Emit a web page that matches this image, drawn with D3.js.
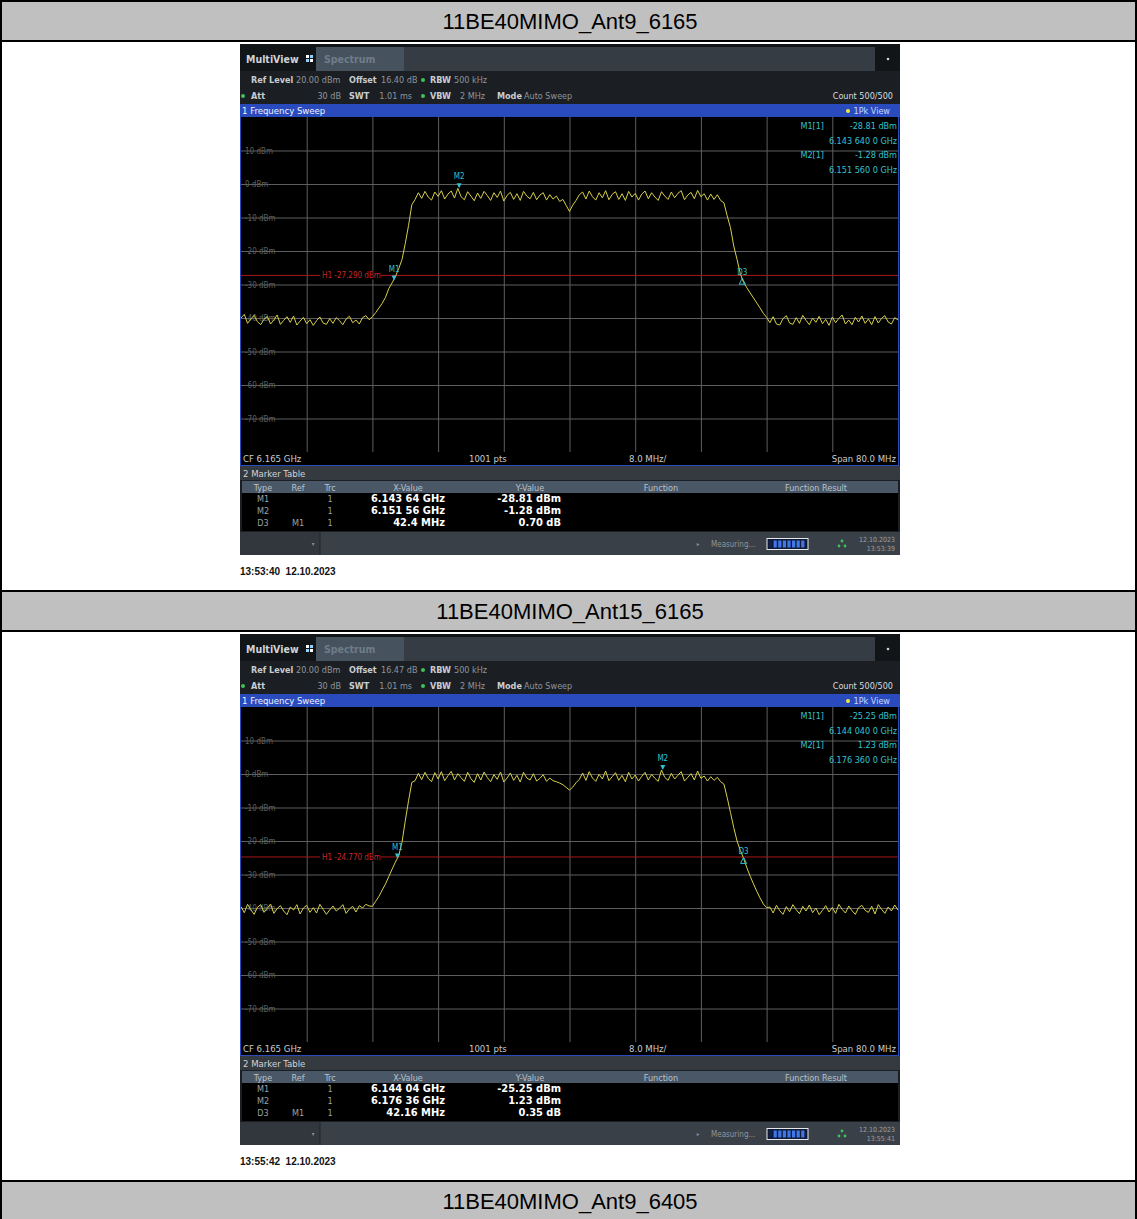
<!DOCTYPE html>
<html>
<head>
<meta charset="utf-8">
<script src="https://cdn.jsdelivr.net/npm/d3@7"></script>
<style>
body { margin: 0; background: #fff; }
svg { display: block; }
.ins text { font-family: "Liberation Sans Narrow", "DejaVu Sans Condensed", "Liberation Sans", sans-serif; }
</style>
</head>
<body>
<div id="chart"></div>
<script>
// ---- data ----
var titles = ["11BE40MIMO_Ant9_6165", "11BE40MIMO_Ant15_6165", "11BE40MIMO_Ant9_6405"];
var stamps = ["13:53:40  12.10.2023", "13:55:42  12.10.2023"];
var instTimes = ["13:53:39", "13:55:41"];
var instDate = "12.10.2023";
var offsets = ["16.40 dB", "16.47 dB"];
var freqStart = 6.125, freqStop = 6.205; // GHz, CF 6.165 span 80 MHz
var refLevel = 20, bottomLevel = -80;
var yTickLevels = [10, 0, -10, -20, -30, -40, -50, -60, -70];

// trace values in dBm, evenly spread over the span (0.4 MHz apart)
var trace1 = [
  -40.0,-38.9,-41.6,-40.3,-39.2,-41.1,-42.0,-40.4,-39.5,-41.8,
  -40.6,-39.1,-41.9,-40.7,-39.6,-41.3,-39.4,-42.1,-40.9,-39.8,
  -41.7,-40.5,-42.2,-40.8,-39.7,-41.5,-41.9,-40.2,-41.6,-39.9,
  -40.8,-42.0,-40.3,-39.5,-41.4,-40.6,-41.8,-39.9,-39.3,-40.5,
  -39.6,-38.4,-37.0,-35.6,-33.8,-31.2,-29.5,-27.6,-25.3,-22.6,-17.8,-12.4,-6.2,
  -4.6,-2.6,-4.3,-2.2,-3.9,-4.8,-2.4,-3.7,-2.0,-4.5,
  -3.0,-2.1,-4.2,-1.3,-3.8,-4.7,-2.3,-3.6,-5.0,-2.7,
  -4.3,-2.2,-3.5,-4.9,-2.6,-4.0,-2.1,-5.1,-3.4,-2.5,
  -4.6,-2.9,-4.9,-2.2,-3.6,-4.4,-2.5,-4.7,-3.3,-2.6,
  -4.8,-3.2,-4.5,-3.6,-5.2,-4.6,-6.4,-8.2,-6.3,-4.9,
  -3.2,-2.4,-4.5,-2.1,-3.8,-4.8,-2.6,-4.1,-2.0,-4.7,
  -3.1,-2.3,-4.6,-2.9,-4.9,-2.2,-3.9,-2.8,-4.8,-3.0,
  -2.1,-4.4,-2.6,-3.9,-4.9,-2.3,-3.6,-4.6,-2.4,-4.1,
  -2.8,-2.0,-4.7,-3.3,-2.5,-4.4,-1.9,-3.8,-2.9,-4.8,
  -3.0,-4.6,-3.2,-4.9,
  -5.6,-9.5,-13.0,-18.5,-22.5,-26.8,-29.4,-31.0,-32.5,-34.0,-35.5,-37.0,-38.6,-39.8,
  -41.4,-39.6,-41.8,-42.1,-40.2,-39.3,-41.5,-41.9,-39.9,-41.6,
  -39.2,-40.7,-42.0,-40.0,-41.3,-39.5,-41.7,-40.4,-42.2,-39.7,
  -41.4,-40.1,-39.1,-41.8,-40.6,-42.0,-39.8,-41.2,-39.4,-41.6,
  -40.3,-42.0,-39.6,-41.5,-40.1,-39.3,-41.2,-41.8,-39.9,-40.6
];
var trace2 = [
  -39.6,-41.4,-38.9,-40.5,-41.9,-39.8,-39.0,-41.3,-40.1,-38.8,
  -41.6,-40.2,-39.3,-40.9,-42.0,-39.7,-40.6,-39.0,-41.8,-40.0,
  -39.2,-41.3,-39.9,-41.5,-38.9,-40.4,-41.9,-40.6,-39.4,-40.9,
  -40.1,-39.0,-41.6,-40.3,-39.5,-41.2,-39.3,-40.0,-38.9,-39.4,
  -39.5,-38.0,-36.5,-34.6,-32.8,-30.6,-28.4,-26.3,-24.4,-20.5,-14.0,-8.0,-2.5,
  -2.0,0.2,-1.7,0.5,-1.3,-2.3,0.4,-1.5,0.7,-2.0,
  -0.5,0.8,-1.8,0.1,-1.1,-2.2,0.5,-1.4,-2.5,0.1,
  -1.8,0.6,-1.1,-2.3,-0.2,-1.6,0.6,-2.4,-1.2,0.3,
  -1.9,-0.4,-2.4,0.5,-1.2,-1.8,0.1,-2.1,-1.3,-0.2,
  -2.2,-1.2,-2.0,-2.3,-2.7,-3.2,-4.0,-4.8,-3.9,-2.6,
  -1.6,0.3,-1.9,0.7,-1.2,-2.2,-0.1,-1.5,0.9,-2.0,
  -0.8,0.4,-1.9,-0.4,-2.3,0.5,-1.5,-0.3,-2.1,-0.7,
  0.5,-1.8,-0.1,-1.3,-2.2,1.2,-1.0,-1.9,0.2,-1.5,
  -0.4,0.7,-2.1,-1.0,0.1,-1.8,0.9,-1.3,-0.6,-2.1,
  -0.8,-1.9,-1.0,-2.3,
  -3.0,-7.0,-11.5,-16.0,-20.0,-22.8,-25.2,-28.0,-30.5,-32.8,-35.0,-37.0,-38.8,-39.9,
  -39.7,-41.5,-39.2,-40.8,-41.9,-39.6,-41.1,-39.0,-40.5,-41.7,
  -39.5,-40.9,-39.1,-41.4,-40.0,-42.0,-40.7,-39.3,-41.2,-39.8,
  -41.6,-38.9,-40.4,-41.5,-39.4,-40.8,-41.9,-39.9,-39.2,-40.7,
  -41.3,-39.5,-41.8,-39.0,-40.4,-41.6,-39.7,-40.9,-39.1,-40.6
];
var traces = [trace1, trace2];

var h1Levels = [-27.29, -24.77];
var m1Freq = [6.14364, 6.14404], m1Level = [-28.81, -25.25];
var m2Freq = [6.15156, 6.17636], m2Level = [-1.28, 1.23];
var d3Freq = [6.18604, 6.18620], d3Level = [-28.11, -24.90];

var m1FreqText = ["6.143 640 0 GHz", "6.144 040 0 GHz"];
var m2FreqText = ["6.151 560 0 GHz", "6.176 360 0 GHz"];
var tableX = [["6.143 64 GHz", "6.151 56 GHz", "42.4 MHz"], ["6.144 04 GHz", "6.176 36 GHz", "42.16 MHz"]];
var tableY = [["-28.81 dBm", "-1.28 dBm", "0.70 dB"], ["-25.25 dBm", "1.23 dBm", "0.35 dB"]];
var tableType = ["M1", "M2", "D3"];
var tableRef = ["", "", "M1"];

// ---- page ----
var W = 1137, H = 1219;
var svg = d3.select("#chart").append("svg").attr("width", W).attr("height", H);

var titleRows = [0, 590, 1180];
var panelTops = [44, 634];

function txt(g, x, y, s, size, fill, anchor, weight) {
  return g.append("text").attr("x", x).attr("y", y).text(s)
    .attr("font-size", size + "px").attr("fill", fill)
    .attr("text-anchor", anchor || "start")
    .attr("font-weight", weight || "normal");
}

// table cells
titleRows.forEach(function (t, i) {
  svg.append("rect").attr("x", 1).attr("y", t + 1).attr("width", W - 2).attr("height", 40).attr("fill", "#c0c0c0");
  svg.append("text").attr("x", 570).attr("y", t + 29).text(titles[i])
    .attr("text-anchor", "middle").attr("font-family", "Liberation Sans, Arial, sans-serif")
    .attr("font-size", "22px").attr("fill", "#000");
  svg.append("line").attr("x1", 0).attr("x2", W).attr("y1", t + 1).attr("y2", t + 1).attr("stroke", "#000").attr("stroke-width", 2);
  svg.append("line").attr("x1", 0).attr("x2", W).attr("y1", t + 41).attr("y2", t + 41).attr("stroke", "#000").attr("stroke-width", 2);
});
svg.append("line").attr("x1", 1).attr("x2", 1).attr("y1", 0).attr("y2", H).attr("stroke", "#000").attr("stroke-width", 2);
svg.append("line").attr("x1", W - 1).attr("x2", W - 1).attr("y1", 0).attr("y2", H).attr("stroke", "#000").attr("stroke-width", 2);

function drawPanel(p, top) {
  var g = svg.append("g").attr("class", "ins").attr("transform", "translate(240," + top + ")");
  var Wp = 660, Hp = 511;
  g.append("rect").attr("width", Wp).attr("height", Hp).attr("fill", "#1b1f23");

  // tab bar
  g.append("rect").attr("width", Wp).attr("height", 27).attr("fill", "#121518");
  g.append("rect").attr("x", 164).attr("y", 3).attr("width", 471).attr("height", 24).attr("fill", "#353c44");
  g.append("rect").attr("x", 76).attr("y", 3).attr("width", 88).attr("height", 24).attr("fill", "#46535f");
  txt(g, 6, 19, "MultiView", 10.5, "#cfd3d6", "start", "bold");
  g.append("rect").attr("x", 66).attr("y", 11).attr("width", 3).attr("height", 3).attr("fill", "#ffffff");
  g.append("rect").attr("x", 70).attr("y", 11).attr("width", 3).attr("height", 3).attr("fill", "#8fd0ff");
  g.append("rect").attr("x", 66).attr("y", 15).attr("width", 3).attr("height", 3).attr("fill", "#8fd0ff");
  g.append("rect").attr("x", 70).attr("y", 15).attr("width", 3).attr("height", 3).attr("fill", "#ffffff");
  txt(g, 84, 19, "Spectrum", 10.5, "#6f7c88", "start", "bold");
  g.append("circle").attr("cx", 648).attr("cy", 15).attr("r", 1.3).attr("fill", "#d0d0d0");

  // settings lines
  var c1 = "#c9cdd1", c2 = "#8e959c";
  txt(g, 11, 39, "Ref Level", 9, c1, "start", "bold");
  txt(g, 56, 39, "20.00 dBm", 9, c2);
  txt(g, 109, 39, "Offset", 9, c1, "start", "bold");
  txt(g, 141, 39, offsets[p], 9, c2);
  g.append("circle").attr("cx", 183).attr("cy", 36).attr("r", 2).attr("fill", "#3fc25a");
  txt(g, 190, 39, "RBW", 9, c1, "start", "bold");
  txt(g, 214, 39, "500 kHz", 9, c2);
  g.append("circle").attr("cx", 3).attr("cy", 52).attr("r", 2).attr("fill", "#3fc25a");
  txt(g, 11, 55, "Att", 9, c1, "start", "bold");
  txt(g, 101, 55, "30 dB", 9, c2, "end");
  txt(g, 109, 55, "SWT", 9, c1, "start", "bold");
  txt(g, 172, 55, "1.01 ms", 9, c2, "end");
  g.append("circle").attr("cx", 183).attr("cy", 52).attr("r", 2).attr("fill", "#3fc25a");
  txt(g, 190, 55, "VBW", 9, c1, "start", "bold");
  txt(g, 245, 55, "2 MHz", 9, c2, "end");
  txt(g, 257, 55, "Mode", 9, c1, "start", "bold");
  txt(g, 284, 55, "Auto Sweep", 9, c2);
  txt(g, 653, 55, "Count 500/500", 9, "#d8dcdf", "end");

  // blue title bar
  g.append("rect").attr("x", 0).attr("y", 60).attr("width", Wp).attr("height", 13).attr("fill", "#2a4bbd");
  txt(g, 2, 70, "1 Frequency Sweep", 9.5, "#f0f3ff");
  g.append("circle").attr("cx", 608).attr("cy", 67).attr("r", 2).attr("fill", "#f2e640");
  txt(g, 650, 70, "1Pk View", 9, "#c8d6ff", "end");

  // plot area
  var x = d3.scaleLinear().domain([freqStart, freqStop]).range([1, 658]);
  var y = d3.scaleLinear().domain([bottomLevel, refLevel]).range([408, 73]);
  g.append("rect").attr("x", 1).attr("y", 73).attr("width", 657).attr("height", 335).attr("fill", "#000");

  var xGrid = d3.range(1, 10).map(function (k) { return freqStart + k * (freqStop - freqStart) / 10; });
  var yGrid = d3.range(1, 10).map(function (k) { return bottomLevel + k * (refLevel - bottomLevel) / 10; });

  g.append("g").attr("class", "xgrid").attr("transform", "translate(0,408)")
    .call(d3.axisBottom(x).tickValues(xGrid).tickSize(-335).tickFormat(""))
    .call(function (a) {
      a.select(".domain").remove();
      a.selectAll("line").attr("stroke", "#5e5e5e").attr("stroke-width", 1);
    });
  g.append("g").attr("class", "ygrid").attr("transform", "translate(1,0)")
    .call(d3.axisRight(y).tickValues(yGrid).tickSize(657).tickFormat(""))
    .call(function (a) {
      a.select(".domain").remove();
      a.selectAll("line").attr("stroke", "#5e5e5e").attr("stroke-width", 1);
    });
  g.append("g").attr("class", "ylab").attr("transform", "translate(1,0)")
    .call(d3.axisRight(y).tickValues(yTickLevels).tickSize(0).tickPadding(4)
      .tickFormat(function (d) { return d + " dBm"; }))
    .call(function (a) {
      a.select(".domain").remove();
      a.selectAll("text").attr("fill", "#5f5f5f").attr("font-size", "8px")
        .attr("font-family", "Liberation Sans Narrow, DejaVu Sans Condensed, sans-serif");
    });

  // H1 line
  var hy = y(h1Levels[p]);
  g.append("line").attr("x1", 1).attr("x2", 658).attr("y1", hy).attr("y2", hy).attr("stroke", "#a8161a").attr("stroke-width", 1);
  g.append("rect").attr("x", 80).attr("y", hy - 4).attr("width", 61).attr("height", 8).attr("fill", "#000");
  txt(g, 82, hy + 3, "H1 " + h1Levels[p].toFixed(3) + " dBm", 8, "#c8262a");

  // trace
  var tr = traces[p];
  var step = (freqStop - freqStart) / (tr.length - 1);
  var line = d3.line()
    .x(function (d, i) { return x(freqStart + i * step); })
    .y(function (d) { return y(d); });
  g.append("path").datum(tr).attr("fill", "none").attr("stroke", "#d8d04a")
    .attr("stroke-width", 1).attr("stroke-linejoin", "round").attr("d", line);

  // markers
  var cyan = "#33c0cf";
  function marker(f, lv, label) {
    var mx = x(f), my = y(lv);
    g.append("path").attr("d", "M" + (mx - 2.5) + "," + (my - 5) + "L" + (mx + 2.5) + "," + (my - 5) + "L" + mx + "," + my + "Z").attr("fill", cyan);
    txt(g, mx, my - 9, label, 8, cyan, "middle");
  }
  marker(m1Freq[p], m1Level[p], "M1");
  marker(m2Freq[p], m2Level[p], "M2");
  var dx = x(d3Freq[p]), dy = y(d3Level[p]);
  g.append("path").attr("d", "M" + (dx - 3) + "," + (dy + 6) + "L" + (dx + 3) + "," + (dy + 6) + "L" + dx + "," + dy + "Z")
    .attr("fill", "none").attr("stroke", cyan).attr("stroke-width", 1);
  txt(g, dx, dy - 3, "D3", 8, cyan, "middle");

  // marker info (top right)
  txt(g, 584, 85, "M1[1]", 9, cyan, "end");
  txt(g, 657, 85, m1Level[p].toFixed(2) + " dBm", 9, cyan, "end");
  txt(g, 657, 100, m1FreqText[p], 9, cyan, "end");
  txt(g, 584, 114, "M2[1]", 9, cyan, "end");
  txt(g, 657, 114, m2Level[p].toFixed(2) + " dBm", 9, cyan, "end");
  txt(g, 657, 129, m2FreqText[p], 9, cyan, "end");

  // blue frame of the sweep window
  g.append("rect").attr("x", 0.5).attr("y", 60.5).attr("width", 658).attr("height", 361).attr("fill", "none").attr("stroke", "#2a4bbd").attr("stroke-width", 1);

  // bottom label row
  g.append("rect").attr("x", 1).attr("y", 408).attr("width", 657).attr("height", 13).attr("fill", "#000");
  var c3 = "#c8ccd0";
  txt(g, 3, 418, "CF 6.165 GHz", 9.5, c3);
  txt(g, 229, 418, "1001 pts", 9.5, c3);
  txt(g, 389, 418, "8.0 MHz/", 9.5, c3);
  txt(g, 656, 418, "Span 80.0 MHz", 9.5, c3, "end");

  // marker table
  g.append("rect").attr("x", 0).attr("y", 422).attr("width", Wp).attr("height", 14).attr("fill", "#353a40");
  txt(g, 3, 433, "2 Marker Table", 9.5, "#d0d4d8");
  g.append("rect").attr("x", 2).attr("y", 437).attr("width", 656).attr("height", 12).attr("fill", "#4a5766");
  var hc = "#b9c2cb";
  txt(g, 23, 447, "Type", 9, hc, "middle");
  txt(g, 58, 447, "Ref", 9, hc, "middle");
  txt(g, 90, 447, "Trc", 9, hc, "middle");
  txt(g, 168, 447, "X-Value", 9, hc, "middle");
  txt(g, 290, 447, "Y-Value", 9, hc, "middle");
  txt(g, 421, 447, "Function", 9, hc, "middle");
  txt(g, 576, 447, "Function Result", 9, hc, "middle");
  g.append("rect").attr("x", 2).attr("y", 449).attr("width", 656).attr("height", 38).attr("fill", "#000");
  tableType.forEach(function (t, i) {
    var by = 458 + i * 12;
    txt(g, 23, by, t, 9, "#9aa1a8", "middle");
    txt(g, 58, by, tableRef[i], 9, "#9aa1a8", "middle");
    txt(g, 90, by, "1", 9, "#9aa1a8", "middle");
    txt(g, 205, by, tableX[p][i], 11, "#ffffff", "end", "bold");
    txt(g, 321, by, tableY[p][i], 11, "#ffffff", "end", "bold");
  });

  // status bar
  g.append("rect").attr("x", 0).attr("y", 488).attr("width", Wp).attr("height", 23).attr("fill", "#3a4047");
  g.append("rect").attr("x", 0).attr("y", 488).attr("width", 80).attr("height", 23).attr("fill", "#32373d");
  g.append("line").attr("x1", 80).attr("x2", 80).attr("y1", 488).attr("y2", 511).attr("stroke", "#22262a");
  txt(g, 73, 502, "\u25BE", 6, "#8a9097", "middle");
  txt(g, 458, 502, "\u25B8", 6, "#8a9097", "middle");
  txt(g, 471, 503, "Measuring...", 8, "#8e959c");
  g.append("rect").attr("x", 527).attr("y", 494.5).attr("width", 41).attr("height", 11).attr("fill", "#0f1a3a").attr("stroke", "#e6e9ec").attr("stroke-width", 1);
  d3.range(8).forEach(function (k) {
    g.append("rect").attr("x", 529 + k * 4.6).attr("y", 496.5).attr("width", 3.2).attr("height", 7)
      .attr("fill", k === 0 ? "#12214a" : "#3f78e6");
  });
  g.append("circle").attr("cx", 602).attr("cy", 497).attr("r", 1.4).attr("fill", "#3cc45a");
  g.append("circle").attr("cx", 599).attr("cy", 502).attr("r", 1.4).attr("fill", "#3cc45a");
  g.append("circle").attr("cx", 605).attr("cy", 502).attr("r", 1.4).attr("fill", "#3cc45a");
  txt(g, 655, 498, instDate, 7, "#9aa1a8", "end");
  txt(g, 655, 507, instTimes[p], 7, "#9aa1a8", "end");

  // capture time under the screenshot
  svg.append("text").attr("x", 240).attr("y", top + 531).text(stamps[p])
    .attr("font-family", "Liberation Sans, Arial, sans-serif").attr("font-weight", "bold")
    .attr("font-size", "10px").attr("fill", "#111").attr("xml:space", "preserve")
    .style("white-space", "pre");
}

panelTops.forEach(function (t, i) { drawPanel(i, t); });
</script>
</body>
</html>
